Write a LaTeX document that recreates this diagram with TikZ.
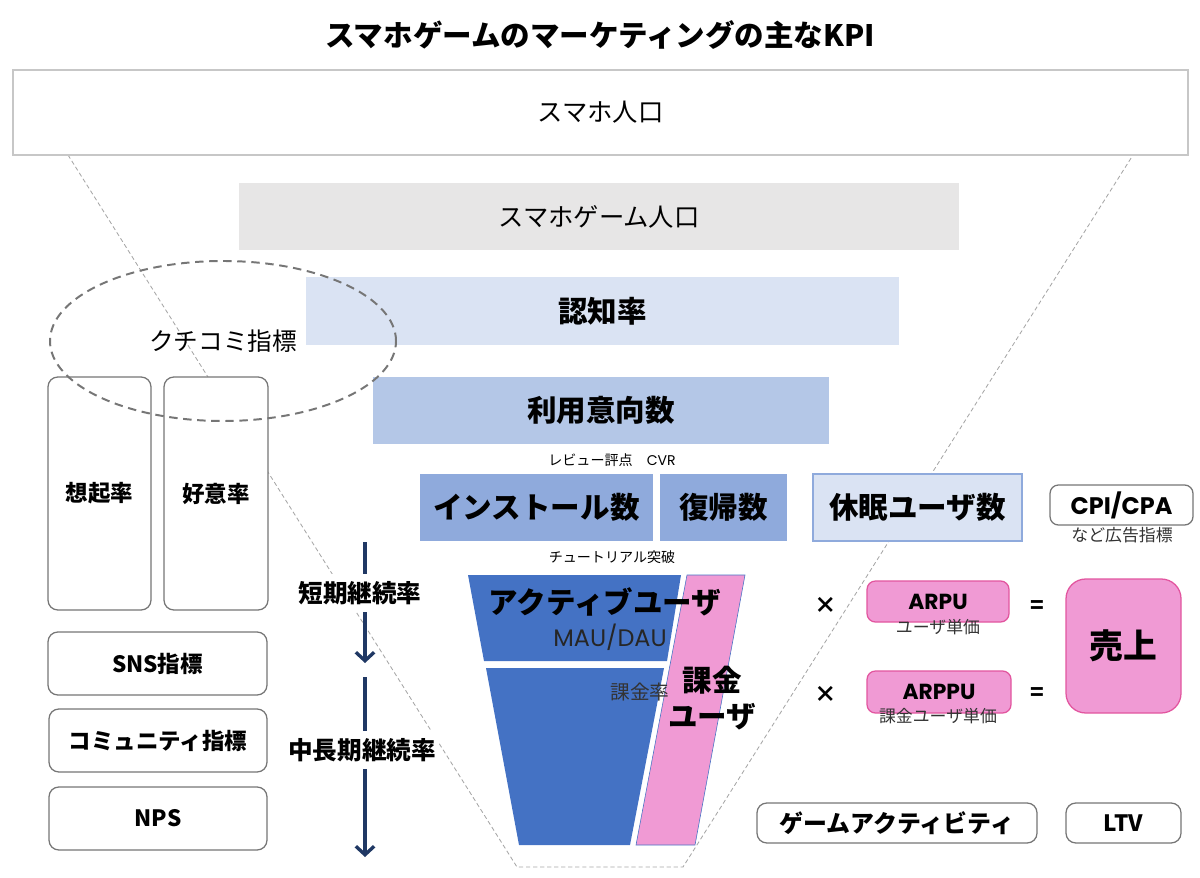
\documentclass[tikz,border=0pt]{standalone}
\usepackage{fontspec}
\setmainfont{Noto Sans CJK JP}
\newfontfamily\geo{Poppins}
\usetikzlibrary{arrows.meta,shapes.geometric}

\definecolor{grayfill}{HTML}{E7E6E6}
\definecolor{blueA}{HTML}{DAE3F3}
\definecolor{blueB}{HTML}{B4C7E7}
\definecolor{blueC}{HTML}{8FAADC}
\definecolor{blueD}{HTML}{4472C4}
\definecolor{pinkfill}{HTML}{F09AD4}
\definecolor{pinkline}{HTML}{E2559F}
\definecolor{navy}{HTML}{203864}
\definecolor{edgegray}{HTML}{767676}

\newcommand{\px}{0.025cm}
\newcommand{\bigbold}{\fontsize{21}{26}\selectfont\bfseries}
\newcommand{\midbold}{\fontsize{16}{19}\selectfont\bfseries}
\newcommand{\midreg}{\fontsize{18}{21}\selectfont}
\newcommand{\smallreg}{\fontsize{10}{12}\selectfont}
\newcommand{\subreg}{\fontsize{12}{14}\selectfont}

\tikzset{
  band/.style 2 args={inner sep=0pt, minimum width=#1*\px, minimum height=#2*\px},
  kpibox/.style 2 args={band={#1}{#2}, draw=edgegray, line width=0.9pt, fill=white, rounded corners=7pt, font=\midbold},
  pinkbox/.style 2 args={band={#1}{#2}, draw=pinkline, line width=0.9pt, fill=pinkfill, rounded corners=6pt},
  funnel/.style={draw=black!35, line width=0.6pt, dash pattern=on 3pt off 2pt},
  navyline/.style={draw=navy, line width=2.4pt},
  rate/.style={fill=white, inner xsep=2pt, inner ysep=5pt, font=\fontsize{17.5}{20}\selectfont\bfseries},
}

\begin{document}
\begin{tikzpicture}[x=\px, y=-\px]
\useasboundingbox (0,0) rectangle (1200,878);
\node[font=\fontsize{21}{25}\selectfont\bfseries] (ttl) at (600,35) {スマホゲームのマーケティングの主なKPI};
\draw[funnel] (68,155) -- (517,867) -- (683,867) -- (1133,155);
\node[band={1175}{85}, draw=black!22, line width=0.9pt, font=\midreg] (phone) at (600.5,112.5) {スマホ人口};
\node[band={720}{67}, fill=grayfill, font=\midreg] (gamers) at (599,216.5) {スマホゲーム人口};
\node[band={593}{68}, fill=blueA, font=\bigbold] (aware) at (602.5,311) {認知率};
\node[band={456}{67}, fill=blueB, font=\bigbold] (intent) at (601,410.5) {利用意向数};
\node[font=\smallreg] (review) at (612,460) {レビュー評点\quad{\geo CVR}};
\node[band={233}{67}, fill=blueC, font=\bigbold] (install) at (536.5,507.5) {インストール数};
\node[band={127}{67}, fill=blueC, font=\bigbold] (comeback) at (723.5,507.5) {復帰数};
\node[band={209}{67}, fill=blueA, draw=blueC, line width=0.8pt, font=\bigbold] (dormant) at (917.5,507.5) {休眠ユーザ数};
\node[font=\smallreg] (tutorial) at (612,557) {チュートリアル突破};
\fill[blueD] (468,575) -- (681,575) -- (667,661) -- (484,661) -- cycle;
\fill[blueD] (486,668) -- (664,668) -- (630,845) -- (519,845) -- cycle;
\filldraw[fill=pinkfill, draw=blueD, line width=0.4pt] (687,575) -- (745,575) -- (695,845) -- (636,845) -- cycle;
\node[font=\bigbold] (active) at (605,602) {アクティブユーザ};
\node[font=\geo\fontsize{17}{20}\selectfont, text=black!85] (maudau) at (610,637) {MAU/DAU};
\node[font=\fontsize{14}{16}\selectfont, text=black!80] (payrate) at (640,692) {課金率};
\node[font=\bigbold, align=center] (payer) at (712,698) {課金\\ユーザ};
\node[kpibox={103}{233}] (recall) at (99.5,493.5) {想起率};
\node[kpibox={104}{233}] (favor) at (216,493.5) {好意率};
\node[kpibox={219}{63}] (sns) at (157.5,663.5) {SNS指標};
\node[kpibox={218}{63}] (community) at (158,740.5) {コミュニティ指標};
\node[kpibox={218}{63}] (nps) at (158,818.5) {NPS};
\node[ellipse, draw=edgegray, line width=1.4pt, dash pattern=on 6pt off 4pt, minimum width=346*\px, minimum height=160*\px, font=\fontsize{17.5}{20}\selectfont] (wom) at (223,341) {クチコミ指標};
\coordinate (s1) at (365,542);
\coordinate (e1) at (365,663);
\coordinate (s2) at (365,677);
\coordinate (e2) at (365,857);
\node[rate] (shortterm) at (360,593) {短期継続率};
\node[rate] (longterm) at (362,750) {中長期継続率};
\draw[navyline] (s1) -- (s1 |- shortterm.north);
\draw[navyline, -{Straight Barb[length=6pt, width=13pt]}] (s1 |- shortterm.south) -- (e1);
\draw[navyline] (s2) -- (s2 |- longterm.north);
\draw[navyline, -{Straight Barb[length=6pt, width=13pt]}] (s2 |- longterm.south) -- (e2);
\node[kpibox={143}{40}, font=\geo\fontsize{17}{20}\selectfont\bfseries, rounded corners=6pt] (cpi) at (1121.5,505) {CPI/CPA};
\node[font=\subreg, text=black!80] (adnote) at (1122,535) {など広告指標};
\node[font=\midbold] (times1) at (826,605) {×};
\node[font=\midbold] (times2) at (826,694) {×};
\node[pinkbox={142}{41}, font=\geo\fontsize{15.5}{18}\selectfont\bfseries] (arpu) at (938,601.5) {ARPU};
\node[font=\subreg, text=black!80] (arpunote) at (938,627) {ユーザ単価};
\node[pinkbox={144}{42}, font=\geo\fontsize{15.5}{18}\selectfont\bfseries] (arppu) at (939,692) {ARPPU};
\node[font=\subreg, text=black!80] (arppunote) at (938,716) {課金ユーザ単価};
\node[font=\midbold] (eq1) at (1037,607) {=};
\node[font=\midbold] (eq2) at (1037,694) {=};
\node[pinkbox={115}{134}, rounded corners=14pt, font=\fontsize{24}{28}\selectfont\bfseries] (sales) at (1123.5,646) {売上};
\node[kpibox={280}{40}, font=\fontsize{17}{20}\selectfont\bfseries] (activity) at (897,823) {ゲームアクティビティ};
\node[kpibox={115}{40}] (ltv) at (1123.5,823) {LTV};
\end{tikzpicture}
\end{document}
